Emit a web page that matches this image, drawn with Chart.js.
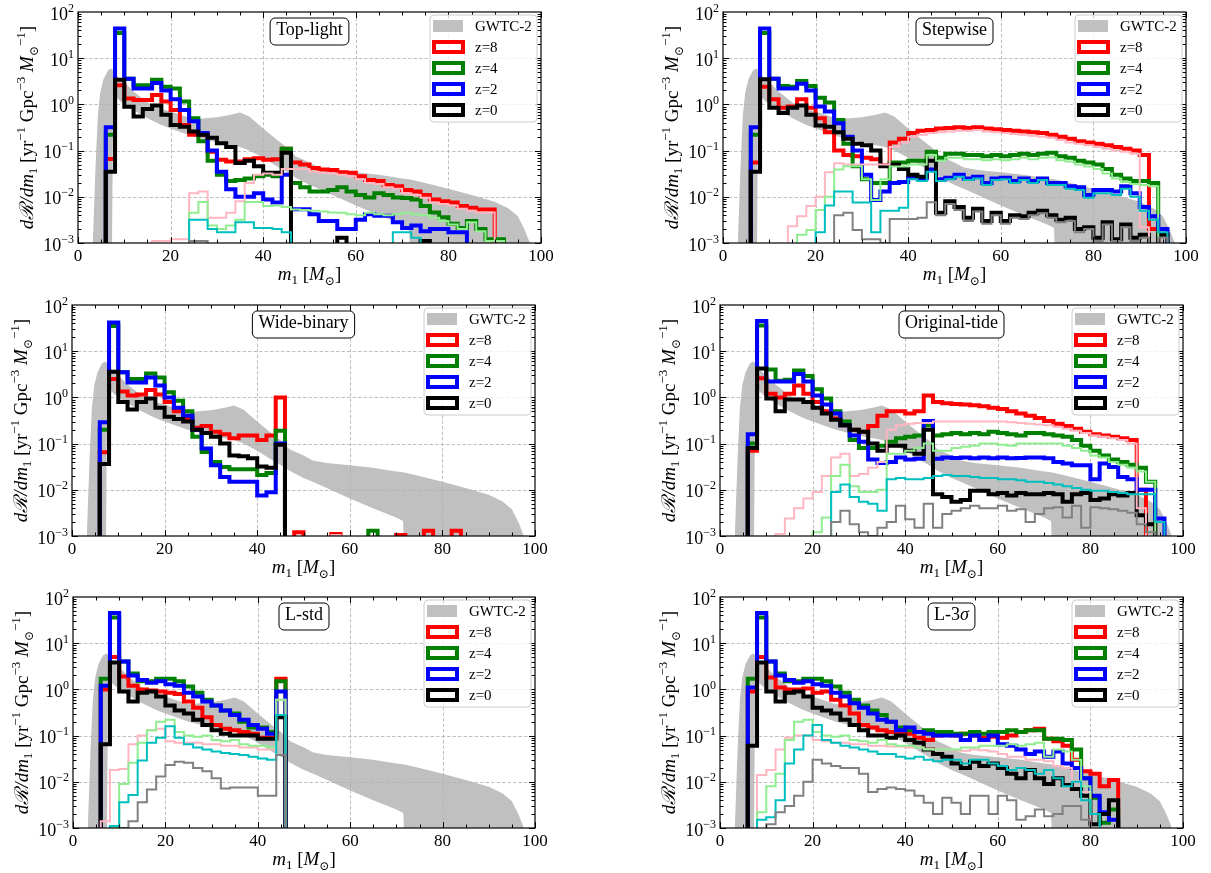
<!DOCTYPE html>
<html>
<head>
<meta charset="utf-8">
<title>Primary mass distributions</title>
<script src="https://cdn.jsdelivr.net/npm/chart.js@4.4.1/dist/chart.umd.min.js"></script>
<style>
  html, body { margin: 0; padding: 0; background: #fff; }
  body { position: relative; width: 1211px; height: 873px; overflow: hidden; }
  canvas { position: absolute; }
</style>
</head>
<body>
<script>
const SERIF = "'Liberation Serif', 'DejaVu Serif', serif";
const FLOOR = 1e-5;      // empty bins are drawn below the axis
const BIN_START = 6;
const BIN_WIDTH = 2;

const xTicks = [0, 20, 40, 60, 80, 100];
const yDecades = [-3, -2, -1, 0, 1, 2];
const legendLabels = ['GWTC-2', 'z=8', 'z=4', 'z=2', 'z=0'];
const panelTitles = ['Top-light', 'Stepwise', 'Wide-binary', 'Original-tide', 'L-std', 'L-3σ'];

// GWTC-2 band (shared by every panel)
const gwX    = [3.2, 3.8, 4.3, 4.8, 5.5, 6.5, 7.2, 7.6, 8, 10, 12, 15, 18, 20, 25, 30, 33, 35, 37, 40,
                43, 45, 47, 50, 52, 55, 60, 65, 70, 71.5, 72.3, 75, 80, 85, 90, 93, 95, 96.5, 97.6];
const gwHigh = [0.001, 0.05, 0.6, 1.8, 3.5, 5.5, 6.0, 5.5, 4.5, 3.0, 1.9, 1.1, 0.8, 0.7, 0.48, 0.53, 0.6, 0.67, 0.55, 0.3,
                0.17, 0.12, 0.075, 0.055, 0.043, 0.038, 0.034, 0.03, 0.025, 0.024, 0.023, 0.02, 0.015, 0.011, 0.0078, 0.0056, 0.0038, 0.0019, 0.001];
const gwLow  = [0, 0, 0, 0, 0, 0, 0, 1.6, 1.5, 1.0, 0.75, 0.5, 0.36, 0.3, 0.2, 0.15, 0.13, 0.12, 0.1, 0.07,
                0.045, 0.035, 0.026, 0.018, 0.015, 0.011, 0.0065, 0.004, 0.0025, 0.0021, 0, 0, 0, 0, 0, 0, 0, 0, 0];

// bins of 2 Msun starting at 6 Msun; z8/z4/z2/z0 = thick lines, t8/t4/t2/t0 = thin lines
// Top-light
const p1_z8 = [0.066, 2.6, 1.35, 1.25, 1.25, 1.6, 1.15, 0.76, 0.36, 0.22,
               0.22, 0.095, 0.063, 0.058, 0.058, 0.065, 0.068, 0.063, 0.065, 0.11,
               0.055, 0.05, 0.042, 0.039, 0.038, 0.034, 0.033, 0.028, 0.023, 0.022,
               0.018, 0.017, 0.014, 0.013, 0.011, 0.0087, 0.008, 0.0075, 0.0063, 0.0058,
               0.0053, 0.0053];
const p1_z4 = [0.22, 35, 3.6, 2.6, 2.6, 3.4, 2.4, 2.2, 1.15, 0.5,
               0.16, 0.06, 0.03, 0.022, 0.023, 0.025, 0.028, 0.03, 0.028, 0.11,
               0.02, 0.016, 0.013, 0.013, 0.014, 0.016, 0.013, 0.011, 0.0096, 0.012,
               0.011, 0.0096, 0.0094, 0.0087, 0.0063, 0.0046, 0.0036, 0.0026, 0.0021, 0.003,
               0.002, 0.0012, 0.0012];
const p1_z2 = [0.32, 44, 3.6, 2.2, 2.2, 2.9, 2.0, 1.3, 0.76, 0.43,
               0.24, 0.1, 0.035, 0.0145, 0.01, 0.01, 0.012, 0.0087, 0.0075, 0.03,
               0.0054, 0.0054, 0.0042, 0.003, 0.003, 0.002, 0.002, 0.0032, 0.0042, 0.0039,
               0.0039, 0.0028, 0.0021, 0.0024, 0.0018, 0.002, 0.002, 0.0017, 0.0017];
const p1_z0 = [0.035, 3.4, 0.89, 0.55, 0.8, 0.95, 0.6, 0.36, 0.33, 0.26,
               0.22, 0.19, 0.145, 0.12, 0.054, 0.06, 0.046, 0.033, 0.033, 0.09,
               0, 0, 0, 0, 0, 0.0013, 0, 0, 0, 0,
               0, 0, 0, 0, 0.0011];
const p1_t8 = [0, 0, 0, 0, 0, 0.0011, 0.0011, 0.0012, 0.0012, 0.012,
               0.013, 0.0035, 0.0035, 0.0045, 0.008, 0.02, 0.03, 0.032, 0.03, 0.04,
               0.04, 0.04, 0.035, 0.033, 0.032, 0.03, 0.028, 0.024, 0.02, 0.019,
               0.016, 0.015, 0.012, 0.011, 0.0095, 0.0075, 0.007, 0.0065, 0.0055, 0.005,
               0.0046, 0.0046];
const p1_t4 = [0, 0, 0, 0, 0, 0, 0, 0, 0, 0.0045,
               0.0077, 0.0024, 0.002, 0.0024, 0.0032, 0.0077, 0.0077, 0.0063, 0.0065, 0.006,
               0.0053, 0.0052, 0.005, 0.0048, 0.0046, 0.0045, 0.0042, 0.004, 0.0045, 0.0042,
               0.004, 0.0042, 0.0045, 0.0042, 0.004, 0.0035, 0.003, 0.0025, 0.002, 0.0028,
               0.0018, 0.0011, 0.0011];
const p1_t2 = [0, 0, 0, 0, 0, 0, 0, 0, 0, 0.0032,
               0.0032, 0.002, 0.0017, 0.0017, 0.0028, 0.0028, 0.0021, 0.0021, 0.002, 0.0017,
               0, 0, 0, 0, 0, 0, 0, 0, 0, 0,
               0, 0.0017, 0.0017, 0.0013];
const p1_t0 = [0, 0, 0, 0, 0, 0, 0, 0, 0, 0.0011, 0.0011];

// Stepwise
const p2_z8 = [0.055, 2.4, 1.3, 0.85, 0.9, 1.3, 0.85, 0.5, 0.25, 0.1,
               0.08, 0.075, 0.07, 0.065, 0.048, 0.15, 0.18, 0.24, 0.27, 0.28,
               0.3, 0.31, 0.32, 0.31, 0.32, 0.3, 0.29, 0.28, 0.27, 0.26,
               0.25, 0.24, 0.22, 0.2, 0.18, 0.16, 0.15, 0.14, 0.13, 0.12,
               0.11, 0.1, 0.08, 0.002];
const p2_z4 = [0.22, 35, 3.6, 2.5, 2.4, 3.2, 2.5, 1.4, 1.1, 0.46,
               0.14, 0.046, 0.024, 0.02, 0.02, 0.055, 0.055, 0.06, 0.06, 0.095,
               0.07, 0.085, 0.085, 0.08, 0.08, 0.075, 0.08, 0.075, 0.08, 0.085,
               0.08, 0.085, 0.09, 0.075, 0.07, 0.06, 0.055, 0.05, 0.04, 0.03,
               0.025, 0.022, 0.022, 0.02];
const p2_z2 = [0.32, 44, 3.6, 2.2, 2.2, 2.8, 2.0, 0.9, 0.7, 0.39,
               0.2, 0.1, 0.03, 0.0085, 0.013, 0.02, 0.021, 0.026, 0.025, 0.039,
               0.024, 0.026, 0.03, 0.025, 0.027, 0.02, 0.025, 0.026, 0.022, 0.025,
               0.022, 0.025, 0.02, 0.02, 0.017, 0.016, 0.011, 0.014, 0.014, 0.013,
               0.017, 0.012, 0.006, 0.0038, 0.002];
const p2_z0 = [0.035, 3.5, 0.85, 0.65, 0.85, 0.95, 0.6, 0.35, 0.33, 0.25,
               0.18, 0.14, 0.13, 0.1, 0.046, 0.05, 0.04, 0.03, 0.027, 0.06,
               0.0045, 0.008, 0.006, 0.0035, 0.0055, 0.003, 0.0045, 0.003, 0.004, 0.0038,
               0.0045, 0.005, 0.004, 0.0032, 0.0035, 0.002, 0.0022, 0.0013, 0.0028, 0.0012,
               0.0025, 0.0013, 0.0015, 0, 0.0015];
const p2_t8 = [0, 0, 0, 0, 0.0023, 0.0038, 0.0063, 0.01, 0.034, 0.053,
               0.05, 0.05, 0.05, 0.05, 0.05, 0.12, 0.15, 0.2, 0.22, 0.24,
               0.25, 0.26, 0.27, 0.27, 0.28, 0.26, 0.25, 0.24, 0.23, 0.22,
               0.21, 0.2, 0.19, 0.17, 0.15, 0.14, 0.13, 0.12, 0.11, 0.1,
               0.095, 0.085, 0.0022];
const p2_t4 = [0, 0, 0, 0, 0, 0.0015, 0.0019, 0.0052, 0.01, 0.039,
               0.046, 0.046, 0.024, 0.0085, 0.024, 0.045, 0.045, 0.05, 0.05, 0.08,
               0.06, 0.07, 0.07, 0.065, 0.065, 0.062, 0.065, 0.062, 0.065, 0.07,
               0.065, 0.07, 0.072, 0.062, 0.058, 0.05, 0.045, 0.04, 0.032, 0.025,
               0.021, 0.019, 0.018, 0.017];
const p2_t2 = [0, 0, 0, 0, 0, 0, 0, 0.0017, 0.0065, 0.013,
               0.013, 0.0075, 0.0075, 0.0017, 0.005, 0.005, 0.0058, 0.024, 0.022, 0.035,
               0.022, 0.024, 0.027, 0.023, 0.025, 0.018, 0.023, 0.024, 0.02, 0.023,
               0.02, 0.023, 0.018, 0.018, 0.015, 0.014, 0.0095, 0.012, 0.012, 0.011,
               0.015, 0.01, 0.005, 0.0032, 0.0017];
const p2_t0 = [0, 0, 0, 0, 0, 0, 0, 0, 0, 0.004,
               0.0045, 0.0019, 0.0012, 0.0012, 0.001, 0.0033, 0.0033, 0.0033, 0.0035, 0.0076,
               0.004, 0.007, 0.0052, 0.003, 0.0048, 0.0026, 0.004, 0.0026, 0.0035, 0.0033,
               0.004, 0.0044, 0.0035, 0.0028, 0.003, 0.0017, 0.002, 0.0011, 0.0025, 0.0011,
               0.0022, 0.0011, 0.0013, 0, 0.0013];

// Wide-binary
const p3_z8 = [0.065, 2.5, 1.35, 1.1, 1.15, 1.45, 1.15, 0.8, 0.5, 0.35,
               0.22, 0.24, 0.18, 0.16, 0.13, 0.15, 0.15, 0.12, 0.15, 1.0,
               0, 0.0012, 0, 0, 0, 0.0011, 0, 0, 0, 0,
               0, 0, 0.00105, 0, 0, 0.0013, 0, 0, 0.0013];
const p3_z4 = [0.2, 35, 3.5, 2.5, 2.5, 3.3, 2.7, 1.3, 0.85, 0.5,
               0.14, 0.066, 0.04, 0.031, 0.028, 0.028, 0.028, 0.021, 0.023, 0.19,
               0, 0, 0, 0, 0, 0, 0, 0, 0, 0.0013];
const p3_z2 = [0.29, 42, 3.5, 2.1, 2.1, 2.7, 1.8, 1.0, 0.6, 0.4,
               0.2, 0.078, 0.034, 0.019, 0.015, 0.015, 0.015, 0.0075, 0.0089, 0.1];
const p3_z0 = [0.036, 3.6, 0.8, 0.55, 0.8, 0.95, 0.6, 0.38, 0.34, 0.3,
               0.2, 0.17, 0.14, 0.1, 0.055, 0.053, 0.048, 0.032, 0.03, 0.095];
const p3_t8 = [0, 0, 0, 0, 0, 0, 0, 0, 0, 0,
               0, 0, 0, 0, 0, 0, 0, 0, 0, 0,
               0, 0, 0, 0, 0, 0.00105];

// Original-tide
const p4_z8 = [0.07, 2.6, 1.2, 1.0, 1.2, 1.8, 1.2, 0.8, 0.5, 0.35,
               0.25, 0.2, 0.18, 0.24, 0.4, 0.5, 0.5, 0.45, 0.5, 1.1,
               0.8, 0.75, 0.72, 0.7, 0.68, 0.64, 0.6, 0.56, 0.5, 0.45,
               0.4, 0.36, 0.31, 0.27, 0.24, 0.21, 0.18, 0.16, 0.15, 0.14,
               0.13, 0.12, 0.01];
const p4_z4 = [0.1, 36, 4.0, 2.3, 2.4, 3.8, 2.9, 1.5, 0.95, 0.5,
               0.3, 0.12, 0.08, 0.08, 0.09, 0.11, 0.13, 0.14, 0.15, 0.25,
               0.15, 0.16, 0.17, 0.16, 0.17, 0.16, 0.18, 0.17, 0.16, 0.15,
               0.17, 0.17, 0.16, 0.15, 0.14, 0.12, 0.09, 0.07, 0.055, 0.045,
               0.04, 0.035, 0.03, 0.015];
const p4_z2 = [0.16, 45, 2.2, 2.2, 2.2, 3.2, 2.2, 1.1, 0.7, 0.45,
               0.25, 0.15, 0.11, 0.045, 0.038, 0.04, 0.05, 0.045, 0.047, 0.31,
               0.047, 0.05, 0.049, 0.05, 0.048, 0.05, 0.048, 0.05, 0.048, 0.049,
               0.05, 0.05, 0.048, 0.04, 0.037, 0.034, 0.034, 0.017, 0.037, 0.031,
               0.019, 0.017, 0.01, 0.01, 0.0024];
const p4_z0 = [0.08, 4.2, 0.95, 0.5, 0.9, 0.9, 0.8, 0.6, 0.45, 0.33,
               0.25, 0.2, 0.18, 0.1, 0.07, 0.09, 0.09, 0.07, 0.06, 0.2,
               0.008, 0.007, 0.0055, 0.006, 0.0095, 0.0095, 0.008, 0.0085, 0.0075, 0.0085,
               0.008, 0.008, 0.0085, 0.008, 0.0055, 0.008, 0.0085, 0.006, 0.0065, 0.008,
               0.0075, 0.0085, 0.0028, 0.0018];
const p4_t8 = [0, 0, 0, 0.0011, 0.0024, 0.004, 0.0065, 0.009, 0.02, 0.05,
               0.06, 0.02, 0.022, 0.03, 0.04, 0.2, 0.25, 0.27, 0.28, 0.28,
               0.3, 0.3, 0.3, 0.3, 0.3, 0.3, 0.3, 0.3, 0.29, 0.28,
               0.27, 0.26, 0.25, 0.23, 0.21, 0.19, 0.17, 0.15, 0.14, 0.13,
               0.12, 0.1, 0.004];
const p4_t4 = [0, 0, 0, 0, 0, 0, 0, 0.0012, 0.0025, 0.02,
               0.035, 0.012, 0.009, 0.009, 0.01, 0.06, 0.06, 0.07, 0.08, 0.1,
               0.07, 0.07, 0.08, 0.085, 0.09, 0.1, 0.1, 0.095, 0.09, 0.1,
               0.1, 0.1, 0.1, 0.1, 0.09, 0.08, 0.07, 0.055, 0.05, 0.04,
               0.035, 0.03, 0.025, 0.015];
const p4_t2 = [0, 0, 0, 0, 0, 0, 0, 0, 0, 0.009,
               0.013, 0.007, 0.0055, 0.005, 0.0035, 0.017, 0.018, 0.017, 0.017, 0.018,
               0.02, 0.021, 0.02, 0.02, 0.019, 0.018, 0.018, 0.017, 0.017, 0.016,
               0.015, 0.015, 0.014, 0.013, 0.012, 0.011, 0.01, 0.0095, 0.0095, 0.009,
               0.0085, 0.008, 0.008, 0.008, 0.002];
const p4_t0 = [0, 0, 0, 0, 0, 0, 0, 0, 0, 0.002,
               0.0035, 0.0018, 0.0012, 0.001, 0.0015, 0.002, 0.0045, 0.0023, 0.0015, 0.005,
               0.0015, 0.003, 0.0035, 0.004, 0.0045, 0.004, 0.004, 0.0045, 0.0035, 0.0038,
               0.002, 0.003, 0.004, 0.0042, 0.0025, 0.0045, 0.0015, 0.0042, 0.004, 0.0038,
               0.0035, 0.0032, 0.0018, 0.0012];

// L-std
const p5_z8 = [1.0, 5.0, 1.9, 1.2, 1.0, 0.95, 0.9, 0.85, 0.8, 0.55,
               0.4, 0.25, 0.17, 0.14, 0.13, 0.12, 0.11, 0.09, 0.09, 1.7];
const p5_z4 = [1.7, 36, 4.0, 2.2, 1.5, 1.5, 1.7, 1.7, 1.5, 1.15,
               0.85, 0.6, 0.45, 0.35, 0.3, 0.2, 0.15, 0.15, 0.12, 1.5];
const p5_z2 = [1.2, 45, 4.0, 2.0, 1.6, 1.4, 1.5, 1.3, 1.2, 0.85,
               0.7, 0.55, 0.45, 0.35, 0.28, 0.22, 0.17, 0.14, 0.11, 0.9];
const p5_z0 = [0.065, 3.8, 0.9, 0.55, 0.85, 0.9, 0.7, 0.45, 0.35, 0.3,
               0.22, 0.17, 0.13, 0.11, 0.1, 0.1, 0.1, 0.085, 0.085, 0.25];
const p5_t8 = [0.0014, 0.018, 0.019, 0.065, 0.1, 0.13, 0.14, 0.075, 0.07, 0.07,
               0.07, 0.065, 0.065, 0.06, 0.06, 0.055, 0.055, 0.05, 0.05, 0.6];
const p5_t4 = [0, 0.001, 0.009, 0.026, 0.07, 0.13, 0.2, 0.22, 0.12, 0.1,
               0.095, 0.1, 0.08, 0.075, 0.08, 0.065, 0.06, 0.06, 0.055, 0.6];
const p5_t2 = [0, 0.0011, 0.0036, 0.0052, 0.029, 0.07, 0.09, 0.16, 0.09, 0.065,
               0.055, 0.05, 0.045, 0.042, 0.04, 0.038, 0.035, 0.032, 0.03, 0.28];
const p5_t0 = [0, 0, 0.001, 0.0014, 0.0036, 0.0068, 0.013, 0.023, 0.027, 0.026,
               0.02, 0.017, 0.012, 0.0072, 0.0075, 0.0075, 0.0075, 0.005, 0.005, 0.038];

// L-3sigma
const p6_z8 = [0.9, 5.0, 1.8, 1.1, 1.0, 1.0, 1.05, 0.85, 0.9, 0.6,
               0.45, 0.3, 0.17, 0.15, 0.13, 0.12, 0.11, 0.11, 0.09, 0.08,
               0.1, 0.11, 0.1, 0.11, 0.1, 0.09, 0.095, 0.09, 0.1, 0.12,
               0.13, 0.14, 0.085, 0.075, 0.06, 0.03, 0.017, 0.015, 0.008, 0.011];
const p6_z4 = [1.7, 36, 4.0, 2.2, 1.5, 1.5, 1.7, 1.7, 1.5, 1.15,
               0.85, 0.6, 0.45, 0.35, 0.28, 0.2, 0.15, 0.13, 0.12, 0.13,
               0.12, 0.12, 0.11, 0.11, 0.12, 0.11, 0.12, 0.12, 0.13, 0.12,
               0.13, 0.13, 0.085, 0.085, 0.08, 0.05, 0.012, 0.0045, 0.0013, 0.0025];
const p6_z2 = [1.1, 45, 4.0, 2.0, 1.6, 1.4, 1.5, 1.3, 1.2, 0.85,
               0.7, 0.5, 0.4, 0.3, 0.22, 0.2, 0.13, 0.15, 0.12, 0.11,
               0.1, 0.1, 0.1, 0.08, 0.1, 0.08, 0.1, 0.065, 0.06, 0.05,
               0.04, 0.045, 0.035, 0.045, 0.025, 0.02, 0.012, 0.005, 0.0022, 0.0015];
const p6_z0 = [0.06, 3.8, 0.9, 0.55, 0.85, 0.9, 0.7, 0.4, 0.35, 0.3,
               0.22, 0.17, 0.13, 0.1, 0.1, 0.09, 0.1, 0.08, 0.07, 0.05,
               0.04, 0.035, 0.025, 0.02, 0.027, 0.022, 0.025, 0.02, 0.015, 0.012,
               0.018, 0.012, 0.009, 0.012, 0.0085, 0.007, 0.005, 0.0012, 0.002, 0.004];
const p6_t8 = [0, 0.014, 0.018, 0.05, 0.09, 0.1, 0.1, 0.08, 0.075, 0.07,
               0.07, 0.065, 0.065, 0.06, 0.06, 0.058, 0.058, 0.055, 0.055, 0.052,
               0.05, 0.05, 0.048, 0.047, 0.05, 0.048, 0.045, 0.04, 0.035, 0.035,
               0.03, 0.03, 0.028, 0.022, 0.02, 0.01, 0.006];
const p6_t4 = [0, 0.0022, 0.008, 0.015, 0.08, 0.2, 0.22, 0.12, 0.1, 0.095,
               0.1, 0.08, 0.075, 0.07, 0.08, 0.065, 0.06, 0.06, 0.055, 0.05,
               0.05, 0.05, 0.05, 0.055, 0.055, 0.06, 0.06, 0.06, 0.065, 0.06,
               0.065, 0.07, 0.035, 0.05, 0.045, 0.03, 0.008, 0.002];
const p6_t2 = [0, 0.0015, 0.0017, 0.004, 0.025, 0.05, 0.1, 0.17, 0.08, 0.07,
               0.06, 0.055, 0.05, 0.045, 0.04, 0.04, 0.035, 0.032, 0.035, 0.03,
               0.028, 0.03, 0.03, 0.025, 0.03, 0.03, 0.025, 0.022, 0.018, 0.02,
               0.018, 0.015, 0.018, 0.012, 0.008, 0.01, 0.004, 0.002];
const p6_t0 = [0, 0, 0.0012, 0.0022, 0.003, 0.005, 0.01, 0.03, 0.025, 0.022,
               0.02, 0.02, 0.015, 0.006, 0.007, 0.0075, 0.007, 0.0065, 0.005, 0.0035,
               0.002, 0.0045, 0.0035, 0.002, 0.005, 0.005, 0.002, 0.005, 0.004, 0.0015,
               0.0018, 0.0025, 0.0018, 0.002, 0.003, 0.003, 0.0015];

const panelSeries = [
    {thick: [p1_z8, p1_z4, p1_z2, p1_z0], thin: [p1_t8, p1_t4, p1_t2, p1_t0]},
    {thick: [p2_z8, p2_z4, p2_z2, p2_z0], thin: [p2_t8, p2_t4, p2_t2, p2_t0]},
    {thick: [p3_z8, p3_z4, p3_z2, p3_z0], thin: [p3_t8, [], [], []]},
    {thick: [p4_z8, p4_z4, p4_z2, p4_z0], thin: [p4_t8, p4_t4, p4_t2, p4_t0]},
    {thick: [p5_z8, p5_z4, p5_z2, p5_z0], thin: [p5_t8, p5_t4, p5_t2, p5_t0]},
    {thick: [p6_z8, p6_z4, p6_z2, p6_z0], thin: [p6_t8, p6_t4, p6_t2, p6_t0]}
];

// plot-area boxes on the page: [left, top, right, bottom]
const panelBoxes = [
    [78, 12, 541, 243], [723, 12, 1186, 243],
    [72, 305, 535, 536], [720, 305, 1183, 536],
    [73, 597, 535, 828], [720, 597, 1183, 828]
];

const BAND_COLOR = '#c0c0c0';
const THICK_COLORS = ['#ff0000', '#008000', '#0000ff', '#000000'];
const THIN_COLORS = ['#ffb6c1', '#90ee90', '#00bfbf', '#808080'];
const Y_AXIS_W = 78, X_AXIS_H = 50, PAD_TOP = 12, PAD_RIGHT = 12;

function font(size, style) {
    return (style ? style + ' ' : '') + size + 'px ' + SERIF;
}

/**
 * Turn bin heights into step points (left edge of each bin)
 */
function stepPoints(vals) {
    const pts = [{x: BIN_START, y: FLOOR}];
    vals.forEach((v, i) => pts.push({x: BIN_START + i * BIN_WIDTH, y: v > 0 ? v : FLOOR}));
    pts.push({x: BIN_START + vals.length * BIN_WIDTH, y: FLOOR});
    return pts;
}

/**
 * Draw a run of text pieces: [text, font, baseline shift]
 */
function drawRich(ctx, parts, x, y, align) {
    let total = 0;
    parts.forEach(p => { ctx.font = p[1]; total += ctx.measureText(p[0]).width; });
    let cx = align === 'center' ? x - total / 2 : (align === 'right' ? x - total : x);
    ctx.textAlign = 'left';
    ctx.textBaseline = 'alphabetic';
    parts.forEach(p => {
        ctx.font = p[1];
        ctx.fillText(p[0], cx, y + (p[2] || 0));
        cx += ctx.measureText(p[0]).width;
    });
}

function drawGrid(chart) {
    const {ctx, chartArea: a, scales: {x, y}} = chart;
    ctx.save();
    ctx.strokeStyle = '#b0b0b0';
    ctx.lineWidth = 0.8;
    ctx.setLineDash([3.5, 2]);
    ctx.beginPath();
    xTicks.slice(1, -1).forEach(v => {
        const px = Math.round(x.getPixelForValue(v)) + 0.5;
        ctx.moveTo(px, a.top);
        ctx.lineTo(px, a.bottom);
    });
    yDecades.slice(1, -1).forEach(d => {
        const py = Math.round(y.getPixelForValue(Math.pow(10, d))) + 0.5;
        ctx.moveTo(a.left, py);
        ctx.lineTo(a.right, py);
    });
    ctx.stroke();
    ctx.restore();
}

function drawFrame(chart) {
    const {ctx, chartArea: a, scales: {x, y}} = chart;
    ctx.save();
    ctx.strokeStyle = '#000';
    ctx.lineWidth = 1;
    ctx.beginPath();
    // inward ticks on all four sides
    for (let v = 0; v <= 100; v += 5) {
        const len = v % 20 === 0 ? 6 : 3.5;
        const px = Math.round(x.getPixelForValue(v)) + 0.5;
        ctx.moveTo(px, a.bottom); ctx.lineTo(px, a.bottom - len);
        ctx.moveTo(px, a.top); ctx.lineTo(px, a.top + len);
    }
    for (let d = -3; d < 2; d++) {
        for (let m = 1; m < 10; m++) {
            const len = m === 1 ? 6 : 3.5;
            const py = Math.round(y.getPixelForValue(m * Math.pow(10, d))) + 0.5;
            ctx.moveTo(a.left, py); ctx.lineTo(a.left + len, py);
            ctx.moveTo(a.right, py); ctx.lineTo(a.right - len, py);
        }
    }
    ctx.stroke();
    ctx.lineWidth = 1.2;
    ctx.strokeRect(a.left, a.top, a.right - a.left, a.bottom - a.top);
    ctx.restore();
}

function drawAxisText(chart) {
    const {ctx, chartArea: a, scales: {x, y}} = chart;
    ctx.save();
    ctx.fillStyle = '#000';
    xTicks.forEach(v => {
        drawRich(ctx, [[String(v), font(17)]], x.getPixelForValue(v), a.bottom + 18, 'center');
    });
    yDecades.forEach(d => {
        const exp = d < 0 ? '\u2212' + (-d) : String(d);
        drawRich(ctx, [['10', font(18)], [exp, font(12), -8]], a.left - 4, y.getPixelForValue(Math.pow(10, d)) + 7.5, 'right');
    });
    // x label
    drawRich(ctx, [
        ['m', font(19, 'italic')], ['1', font(13), 4], [' [', font(19)],
        ['M', font(19, 'italic')], ['\u2299', font(12), 5], [']', font(19)]
    ], (a.left + a.right) / 2, a.bottom + 37, 'center');
    // y label
    ctx.translate(a.left - 45, (a.top + a.bottom) / 2);
    ctx.rotate(-Math.PI / 2);
    drawRich(ctx, [
        ['d\u211B/dm', font(19, 'italic')], ['1', font(13), 4],
        [' [yr', font(19)], ['\u22121', font(13), -8],
        [' Gpc', font(19)], ['\u22123', font(13), -8], [' ', font(19)],
        ['M', font(19, 'italic')], ['\u2299', font(12), 5], ['\u22121', font(13), -8], [']', font(19)]
    ], 0, 0, 'center');
    ctx.restore();
}

function roundBox(ctx, x, y, w, h, r) {
    ctx.beginPath();
    if (ctx.roundRect) ctx.roundRect(x, y, w, h, r); else ctx.rect(x, y, w, h);
}

function drawTitleBox(chart, title) {
    const {ctx, chartArea: a, scales: {x}} = chart;
    const parts = title === 'L-3σ'
        ? [['L-3', font(18)], ['\u03C3', font(18, 'italic')]]
        : [[title, font(18)]];
    let tw = 0;
    parts.forEach(p => { ctx.font = p[1]; tw += ctx.measureText(p[0]).width; });
    const cx = x.getPixelForValue(50);
    const w = tw + 12, h = 27, top = a.top + 6;
    ctx.save();
    roundBox(ctx, cx - w / 2, top, w, h, 5);
    ctx.fillStyle = '#fff';
    ctx.fill();
    ctx.strokeStyle = '#000';
    ctx.lineWidth = 1;
    ctx.stroke();
    ctx.fillStyle = '#000';
    drawRich(ctx, parts, cx, top + 16.5, 'center');
    ctx.restore();
}

function drawLegend(chart) {
    const {ctx, chartArea: a} = chart;
    const x0 = a.right - 111, y0 = a.top + 3;
    ctx.save();
    roundBox(ctx, x0, y0, 107, 107, 4);
    ctx.fillStyle = 'rgba(255,255,255,0.8)';
    ctx.fill();
    ctx.strokeStyle = '#cccccc';
    ctx.lineWidth = 1;
    ctx.stroke();
    legendLabels.forEach((label, i) => {
        const cy = y0 + 11 + i * 21;
        const hx = a.right - 108;
        if (i === 0) {
            ctx.fillStyle = BAND_COLOR;
            ctx.fillRect(hx, cy - 6, 30, 12);
        } else {
            ctx.strokeStyle = THICK_COLORS[i - 1];
            ctx.lineWidth = 4;
            ctx.strokeRect(hx + 1, cy - 5, 29, 10);
        }
        ctx.fillStyle = '#000';
        drawRich(ctx, [[label, font(15)]], a.right - 66, cy + 5, 'left');
    });
    ctx.restore();
}

const panelDeco = {
    id: 'panelDeco',
    afterDatasetDraw(chart, args) {
        // grid goes right above the grey band, under the histograms
        if (args.index === 1) drawGrid(chart);
    },
    afterDraw(chart, args, opts) {
        drawFrame(chart);
        drawAxisText(chart);
        drawTitleBox(chart, opts.title);
        drawLegend(chart);
    }
};

function buildDatasets(series) {
    const sets = [
        {data: gwX.map((x, i) => ({x: x, y: gwLow[i] > 0 ? gwLow[i] : FLOOR})),
         borderColor: 'rgba(0,0,0,0)', pointRadius: 0, fill: false, order: 101},
        {data: gwX.map((x, i) => ({x: x, y: gwHigh[i]})),
         borderColor: 'rgba(0,0,0,0)', backgroundColor: BAND_COLOR, pointRadius: 0, fill: '-1', order: 100}
    ];
    series.thick.forEach((vals, i) => {
        sets.push({data: stepPoints(vals), stepped: 'before', borderColor: THICK_COLORS[i],
                   borderWidth: 4, pointRadius: 0, fill: false, clip: 0, order: 20 - i});
    });
    series.thin.forEach((vals, i) => {
        if (!vals.length) return;
        sets.push({data: stepPoints(vals), stepped: 'before', borderColor: THIN_COLORS[i],
                   borderWidth: 2, pointRadius: 0, fill: false, clip: 0, order: 10 - i});
    });
    return sets;
}

panelBoxes.forEach((box, p) => {
    const [L, T, R, B] = box;
    const canvas = document.createElement('canvas');
    canvas.width = (R - L) + Y_AXIS_W + PAD_RIGHT;
    canvas.height = (B - T) + PAD_TOP + X_AXIS_H;
    canvas.style.left = (L - Y_AXIS_W) + 'px';
    canvas.style.top = (T - PAD_TOP) + 'px';
    document.body.appendChild(canvas);

    new Chart(canvas.getContext('2d'), {
        type: 'line',
        data: {datasets: buildDatasets(panelSeries[p])},
        options: {
            responsive: false,
            animation: false,
            events: [],
            layout: {padding: {left: 0, top: PAD_TOP, right: PAD_RIGHT, bottom: 0}},
            plugins: {
                legend: {display: false},
                tooltip: {enabled: false},
                panelDeco: {title: panelTitles[p]}
            },
            scales: {
                x: {
                    type: 'linear', min: 0, max: 100,
                    ticks: {stepSize: 20, display: false},
                    grid: {display: false},
                    border: {display: false},
                    afterFit: s => { s.height = X_AXIS_H; }
                },
                y: {
                    type: 'logarithmic', min: 1e-3, max: 1e2,
                    ticks: {display: false},
                    grid: {display: false},
                    border: {display: false},
                    afterFit: s => { s.width = Y_AXIS_W; }
                }
            }
        },
        plugins: [panelDeco]
    });
});
</script>
</body>
</html>
